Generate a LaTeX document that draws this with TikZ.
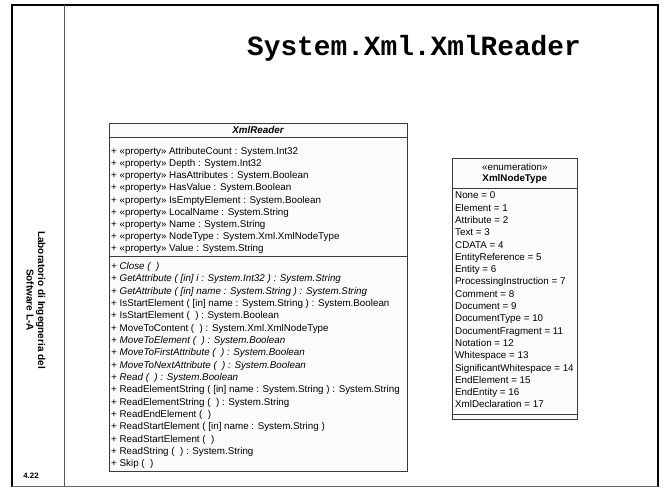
\documentclass[tikz,border=0pt]{standalone}
\usepackage{fontspec}
\setmainfont{Liberation Sans}
\newfontfamily\codefont{Liberation Mono}
\definecolor{umlline}{HTML}{3A3A3A}
\definecolor{umlfill}{HTML}{FBFBFB}
\begin{document}
\begin{tikzpicture}[x=1pt,y=-1pt,
  umltext/.style={anchor=base west,inner sep=0pt,font=\fontsize{9.8}{11}\selectfont},
  umlhead/.style={anchor=base,inner sep=0pt,font=\fontsize{9.8}{11}\selectfont},
  umlbox/.style={draw=umlline,fill=umlfill,line width=0.8pt},
  umlsep/.style={draw=umlline,line width=0.8pt}]
\useasboundingbox (0,0) rectangle (666,488);
\fill[white] (0,0) rectangle (666,488);

% slide frame
\draw[line width=1.2pt] (12,5) -- (658,5);
\draw[line width=2.6pt] (12,4.4) -- (12,487);
\draw[line width=2.6pt] (658,4.4) -- (658,487);
\draw[gray!80!black,line width=1pt] (12,486.5) -- (658,486.5);
\draw[gray!70!black,line width=0.6pt] (64,5) -- (64,486.5);

% slide title and side labels
\node[inner sep=0pt] (title) at (414,48)
  {\codefont\bfseries\fontsize{27.8}{30}\selectfont System.Xml.XmlReader};
\node[rotate=-90,align=center,inner sep=0pt,
  font=\bfseries\fontsize{10}{11.5}\selectfont] (course) at (36,300)
  {Laboratorio di Ingegneria del\\Software L-A};
\node[inner sep=0pt,font=\bfseries\fontsize{7.8}{9}\selectfont] (page) at (31,476) {4.22};

% class XmlReader
\draw[umlbox] (109.5,123) rectangle (407,471);
\draw[umlsep] (109.5,137) -- (407,137);
\draw[umlsep] (109.5,256) -- (407,256);
\node[umlhead] (reader) at (258,133.8) {\bfseries\itshape XmlReader};
\foreach [count=\i] \t in {
  {+ «property» AttributeCount : System.Int32},
  {+ «property» Depth : System.Int32},
  {+ «property» HasAttributes : System.Boolean},
  {+ «property» HasValue : System.Boolean},
  {+ «property» IsEmptyElement : System.Boolean},
  {+ «property» LocalName : System.String},
  {+ «property» Name : System.String},
  {+ «property» NodeType : System.Xml.XmlNodeType},
  {+ «property» Value : System.String}}
  \node[umltext] (attr\i) at (111,{154.3+12.2*(\i-1)}) {\t};
\foreach [count=\i] \t in {
  {\itshape + Close ( \ )},
  {\itshape + GetAttribute ( [in] i : System.Int32 ) : System.String},
  {\itshape + GetAttribute ( [in] name : System.String ) : System.String},
  {+ IsStartElement ( [in] name : System.String ) : System.Boolean},
  {+ IsStartElement ( \ ) : System.Boolean},
  {+ MoveToContent ( \ ) : System.Xml.XmlNodeType},
  {\itshape + MoveToElement ( \ ) : System.Boolean},
  {\itshape + MoveToFirstAttribute ( \ ) : System.Boolean},
  {\itshape + MoveToNextAttribute ( \ ) : System.Boolean},
  {\itshape + Read ( \ ) : System.Boolean},
  {+ ReadElementString ( [in] name : System.String ) : System.String},
  {+ ReadElementString ( \ ) : System.String},
  {+ ReadEndElement ( \ )},
  {+ ReadStartElement ( [in] name : System.String )},
  {+ ReadStartElement ( \ )},
  {+ ReadString ( \ ) : System.String},
  {+ Skip ( \ )}}
  \node[umltext] (op\i) at (111,{269.3+12.35*(\i-1)}) {\t};

% enumeration XmlNodeType
\draw[umlbox] (452.7,158) rectangle (577,419.3);
\draw[umlsep] (452.7,188.5) -- (577,188.5);
\draw[umlsep] (452.7,414) -- (577,414);
\node[umlhead] (stereo) at (514.8,170.3) {«enumeration»};
\node[umlhead] (nodetype) at (514.8,181.8) {\bfseries XmlNodeType};
\foreach [count=\i] \t in {
  None = 0, Element = 1, Attribute = 2, Text = 3, CDATA = 4,
  EntityReference = 5, Entity = 6, ProcessingInstruction = 7,
  Comment = 8, Document = 9, DocumentType = 10, DocumentFragment = 11,
  Notation = 12, Whitespace = 13, SignificantWhitespace = 14,
  EndElement = 15, EndEntity = 16, XmlDeclaration = 17}
  \node[umltext] (lit\i) at (455,{198.8+12.3*(\i-1)}) {\t};
\end{tikzpicture}
\end{document}
